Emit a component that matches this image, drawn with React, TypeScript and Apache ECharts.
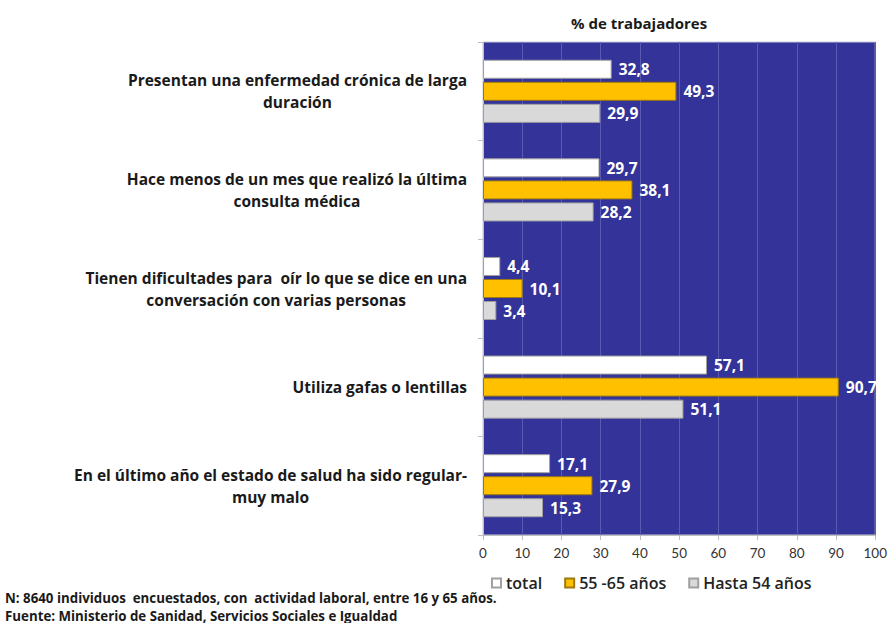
import React, { useEffect, useRef } from "react";
import * as echarts from "echarts";

const categories = [
  "Presentan una enfermedad crónica de larga\nduración",
  "Hace menos de un mes que realizó la última\nconsulta médica",
  "Tienen dificultades para  oír lo que se dice en una\nconversación con varias personas",
  "Utiliza gafas o lentillas",
  "En el último año el estado de salud ha sido regular-\nmuy malo",
];
const seriesNames = ["total", "55 -65 años", "Hasta 54 años"];
const totalValues = [32.8, 29.7, 4.4, 57.1, 17.1];
const age5565Values = [49.3, 38.1, 10.1, 90.7, 27.9];
const upTo54Values = [29.9, 28.2, 3.4, 51.1, 15.3];
const xTicks = { min: 0, max: 100, interval: 10 };
const axisTitle = "% de trabajadores";
const footnotes = [
  "N: 8640 individuos  encuestados, con  actividad laboral, entre 16 y 65 años.",
  "Fuente: Ministerio de Sanidad, Servicios Sociales e Igualdad",
];

const FONT = "'Open Sans', Lato, sans-serif";

export default function App() {
  const ref = useRef<HTMLDivElement>(null);
  useEffect(() => {
    if (!ref.current) return;
    const chart = echarts.init(ref.current, null, { renderer: "svg" });
    const fmt = (p: any) => Number(p.value).toFixed(1).replace(".", ",");
    const label = {
      show: true,
      position: "right",
      distance: 7,
      color: "#ffffff",
      fontFamily: FONT,
      fontWeight: "bold",
      fontSize: 15.5,
      formatter: fmt,
    };
    const mk = (name: string, data: number[], color: string, border: string) => ({
      name,
      type: "bar",
      data,
      barWidth: 19,
      barGap: "16%",
      itemStyle: { color, borderColor: border, borderWidth: 1 },
      label,
    });
    chart.setOption({
      animation: false,
      backgroundColor: "#ffffff",
      textStyle: { fontFamily: FONT },
      grid: {
        left: 483,
        right: 13,
        top: 42,
        bottom: 88,
        show: true,
        backgroundColor: "#333399",
        borderColor: "#c8c8d8",
        borderWidth: 1,
      },
      legend: {
        data: seriesNames,
        left: 486,
        top: 570,
        icon: "rect",
        itemWidth: 9,
        itemHeight: 9,
        itemGap: 22,
        textStyle: { fontFamily: FONT, fontSize: 16, fontWeight: 600, color: "#222222" },
      },
      xAxis: {
        type: "value",
        min: xTicks.min,
        max: xTicks.max,
        interval: xTicks.interval,
        axisLine: { show: true, lineStyle: { color: "#bfbfbf" } },
        axisTick: { show: true, length: 5, lineStyle: { color: "#bfbfbf" } },
        axisLabel: { color: "#333333", fontSize: 13.5, fontFamily: "Lato, sans-serif", margin: 11 },
        splitLine: { show: true, lineStyle: { color: "#5a5ab0", width: 1 } },
      },
      yAxis: {
        type: "category",
        data: categories,
        inverse: true,
        axisLine: { show: true, lineStyle: { color: "#bfbfbf" } },
        axisTick: { show: true, length: 5, lineStyle: { color: "#bfbfbf" } },
        axisLabel: {
          interval: 0,
          align: "right",
          margin: 16,
          formatter: (v: string) => v.split("\n").map((l) => `{c|${l}}`).join("\n"),
          rich: {
            c: {
              align: "center",
              fontFamily: FONT,
              fontSize: 15.5,
              fontWeight: "bold",
              color: "#1a1a1a",
              lineHeight: 22,
            },
          },
        },
      },
      graphic: [
        {
          type: "text",
          left: 571,
          top: 15,
          style: { text: axisTitle, fontFamily: FONT, fontSize: 15, fontWeight: "bold", fill: "#1a1a1a" },
        },
        {
          type: "text",
          left: 5,
          top: 591,
          style: { text: footnotes[0], fontFamily: FONT, fontSize: 13.3, fontWeight: "bold", fill: "#1a1a1a" },
        },
        {
          type: "text",
          left: 5,
          top: 609,
          style: { text: footnotes[1], fontFamily: FONT, fontSize: 13.3, fontWeight: "bold", fill: "#1a1a1a" },
        },
      ],
      series: [
        mk(seriesNames[0], totalValues, "#ffffff", "#a0a0a0"),
        mk(seriesNames[1], age5565Values, "#ffc000", "#9c7a10"),
        mk(seriesNames[2], upTo54Values, "#d9d9d9", "#a0a0a0"),
      ],
    });
    return () => chart.dispose();
  }, []);
  return (
    <div
      ref={ref}
      style={{ position: "fixed", left: 0, top: 0, width: 890, height: 623 }}
    />
  );
}
